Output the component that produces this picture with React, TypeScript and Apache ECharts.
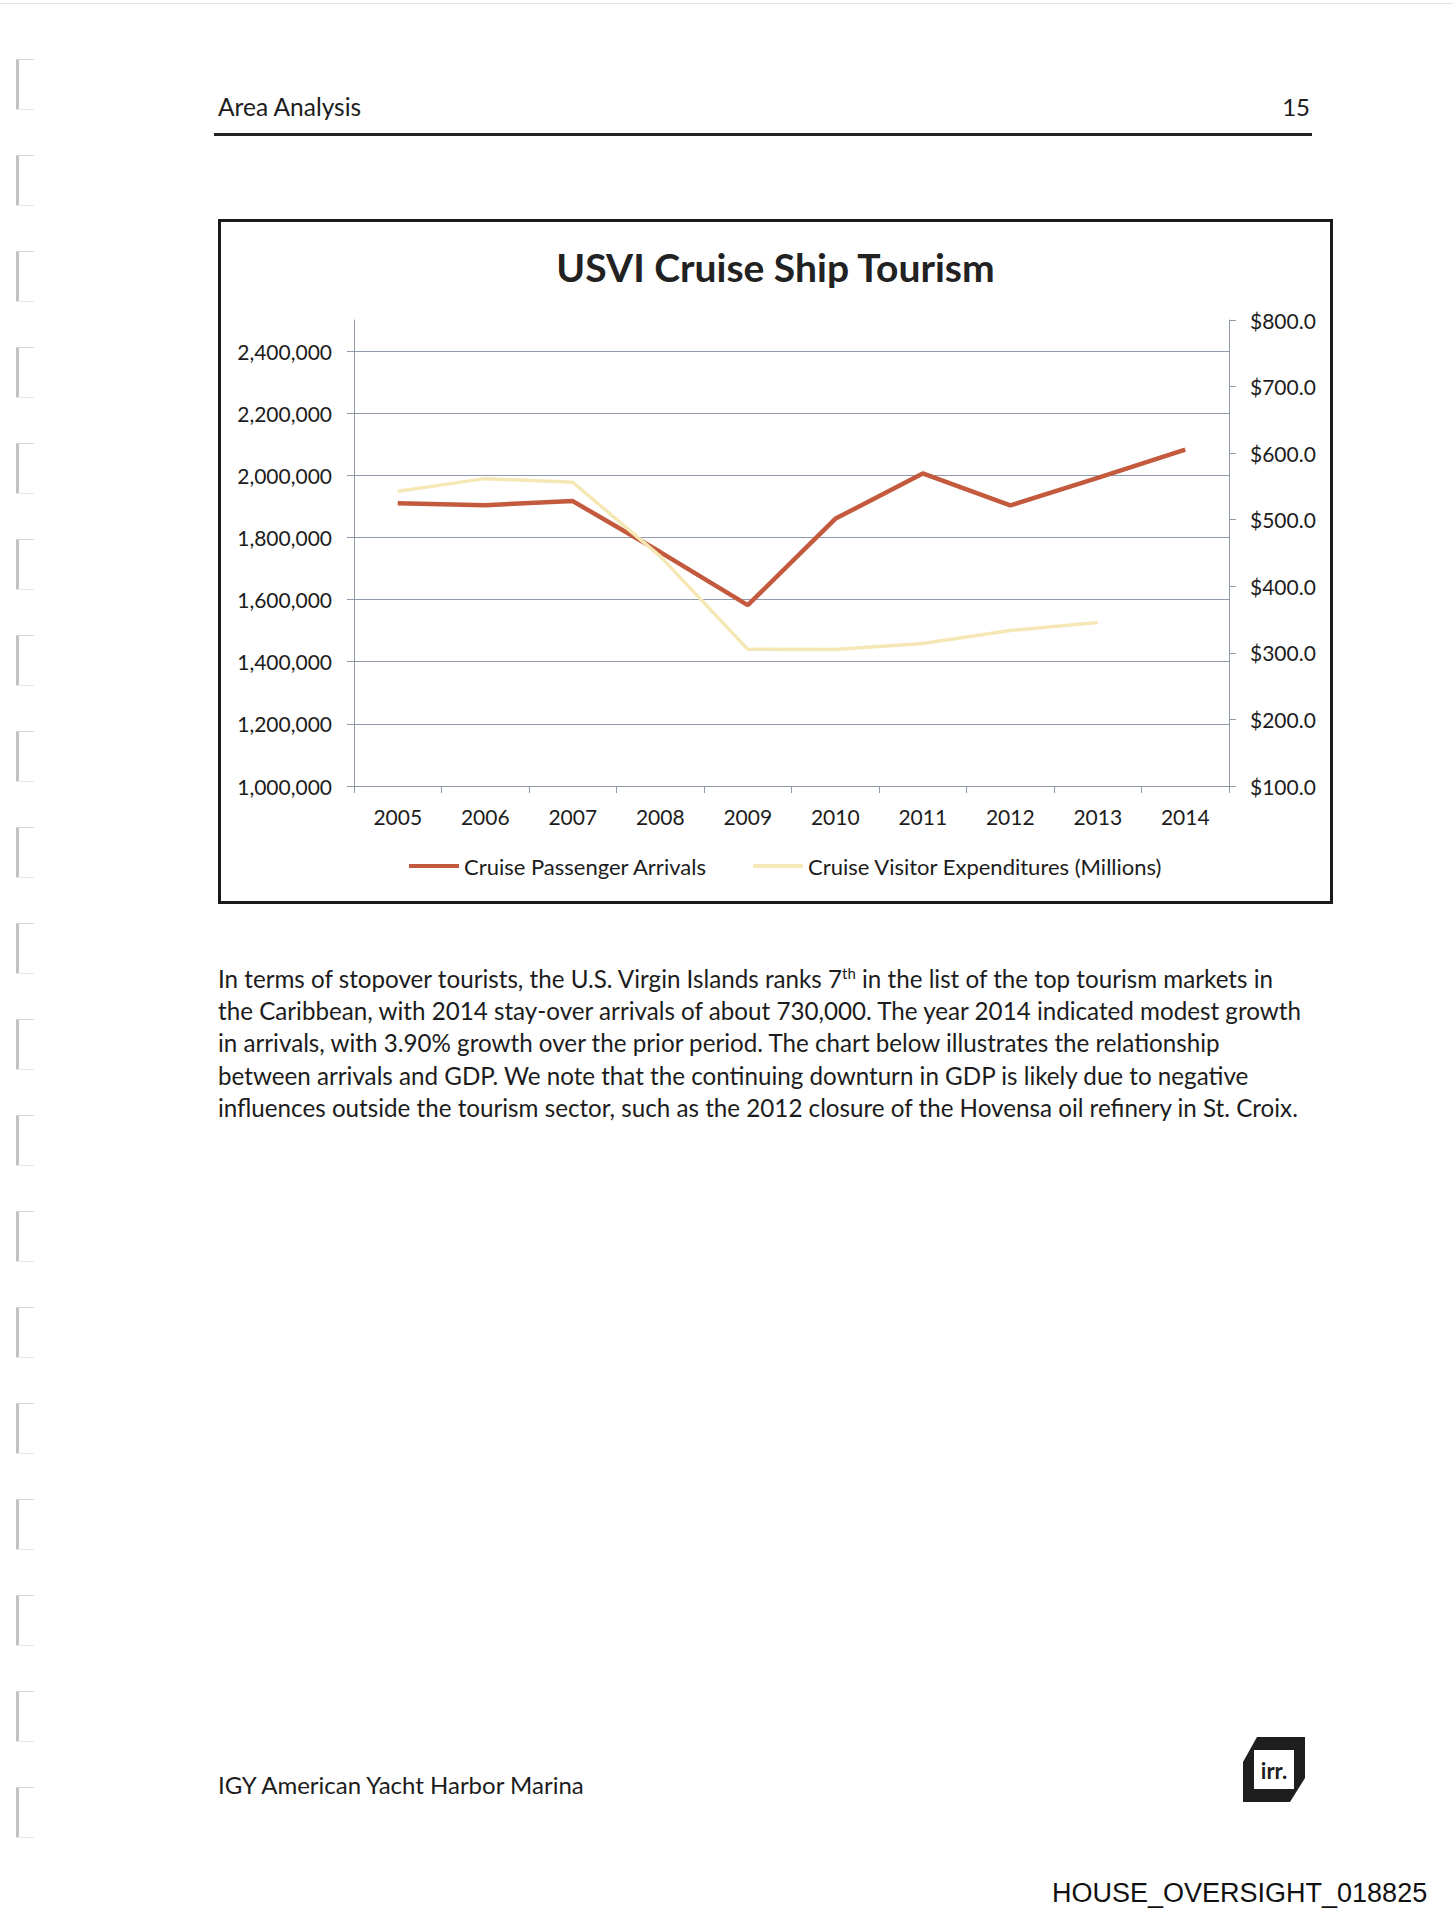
import React, { useEffect, useRef } from "react";
import * as echarts from "echarts";

const years = ["2005", "2006", "2007", "2008", "2009", "2010", "2011", "2012", "2013", "2014"];
const arrivals = [1910000, 1904000, 1917000, 1753000, 1582000, 1860000, 2006000, 1903000, 1992000, 2083000];
const expenditures = [542.8, 561.7, 556.3, 445, 305.5, 305, 314, 333.5, 345.6, null];
const leftTickValues = [1000000, 1200000, 1400000, 1600000, 1800000, 2000000, 2200000, 2400000];
const leftGridValues = [1200000, 1400000, 1600000, 1800000, 2000000, 2200000, 2400000];
const seriesNames = ["Cruise Passenger Arrivals", "Cruise Visitor Expenditures (Millions)"];

const bodyLines = [
  "the Caribbean, with 2014 stay-over arrivals of about 730,000. The year 2014 indicated modest growth",
  "in arrivals, with 3.90% growth over the prior period. The chart below illustrates the relationship",
  "between arrivals and GDP. We note that the continuing downturn in GDP is likely due to negative",
  "influences outside the tourism sector, such as the 2012 closure of the Hovensa oil refinery in St. Croix.",
];

const FONT = "Lato, 'Open Sans', sans-serif";
const GRID = "#8e9aab";
const TXT = "#1c1c1c";
const RED = "#c45a3d";
const YEL = "#f6e8b6";

function Chart() {
  const ref = useRef<HTMLDivElement>(null);
  useEffect(() => {
    if (!ref.current) return;
    const chart = echarts.init(ref.current, undefined, { renderer: "svg" });
    chart.setOption({
      animation: false,
      backgroundColor: "#ffffff",
      textStyle: { fontFamily: FONT },
      title: {
        text: "USVI Cruise Ship Tourism",
        left: "center",
        top: 20,
        textStyle: { fontFamily: FONT, fontWeight: "bold", fontSize: 39, color: "#222" },
      },
      legend: {
        left: 183,
        top: 628,
        itemWidth: 50,
        itemHeight: 4,
        itemGap: 46,
        icon: "rect",
        textStyle: { fontFamily: FONT, fontSize: 22, color: TXT },
        data: seriesNames,
      },
      grid: { left: 133, right: 101, top: 98, bottom: 115, containLabel: false },
      xAxis: {
        type: "category",
        data: years,
        boundaryGap: true,
        axisLine: { show: true, lineStyle: { color: GRID, width: 1 } },
        axisTick: { show: true, length: 7, lineStyle: { color: GRID } },
        axisLabel: { fontFamily: FONT, fontSize: 21, color: TXT, margin: 20 },
        splitLine: { show: false },
      },
      yAxis: [
        {
          type: "value",
          min: 1000000,
          max: 2500000,
          interval: 200000,
          position: "left",
          axisLine: { show: true, lineStyle: { color: GRID, width: 1 } },
          axisTick: { show: true, length: 7, lineStyle: { color: GRID }, customValues: leftTickValues },
          axisLabel: {
            fontFamily: FONT,
            fontSize: 21,
            color: TXT,
            margin: 22,
            customValues: leftTickValues,
            formatter: (v: number) => (v > 2400000 ? "" : v.toLocaleString("en-US")),
          },
          splitLine: { show: false },
        },
        {
          type: "value",
          min: 100,
          max: 800,
          interval: 100,
          position: "right",
          axisLine: { show: true, lineStyle: { color: GRID, width: 1 } },
          axisTick: { show: true, length: 7, lineStyle: { color: GRID } },
          axisLabel: {
            fontFamily: FONT,
            fontSize: 21,
            color: TXT,
            margin: 21,
            formatter: (v: number) => "$" + v.toFixed(1),
          },
          splitLine: { show: false },
        },
      ],
      series: [
        {
          name: seriesNames[0],
          type: "line",
          yAxisIndex: 0,
          data: arrivals,
          symbol: "none",
          lineStyle: { color: RED, width: 4.5 },
          itemStyle: { color: RED },
          markLine: {
            silent: true,
            symbol: "none",
            label: { show: false },
            lineStyle: { color: GRID, width: 1, type: "solid" },
            data: leftGridValues.map((v) => ({ yAxis: v })),
            z: 1,
          },
        },
        {
          name: seriesNames[1],
          type: "line",
          yAxisIndex: 1,
          data: expenditures,
          symbol: "none",
          connectNulls: false,
          lineStyle: { color: YEL, width: 3.5 },
          itemStyle: { color: YEL },
        },
      ],
    });
    return () => chart.dispose();
  }, []);
  return <div ref={ref} style={{ width: 1109, height: 679 }} />;
}

function Logo() {
  return (
    <svg width={70} height={70} viewBox="0 0 70 70" style={{ position: "absolute", left: 1240, top: 1734 }}>
      <polygon points="17,3 65,3 65,44 50,68 3,68 3,28" fill="#1e1e1e" />
      <rect x="14" y="16" width="40" height="39" fill="#ffffff" />
      <text x="34" y="45" textAnchor="middle" fontFamily="Lato, sans-serif" fontWeight="bold" fontSize="22" fill="#1e1e1e">
        irr.
      </text>
    </svg>
  );
}

export default function App() {
  const marks = Array.from({ length: 19 }, (_, i) => 59 + i * 96);
  return (
    <div style={{ position: "absolute", left: 0, top: 0, width: 1453, height: 1920, background: "#fff", overflow: "hidden", fontFamily: FONT, color: TXT }}>
      <div style={{ position: "absolute", left: 0, top: 3, width: 1453, height: 1, background: "#e4e4e4" }} />
      {marks.map((y, i) => (
        <div key={i} style={{ position: "absolute", left: 16, top: y, width: 18, height: 51 }}>
          <div style={{ position: "absolute", left: 0, top: 0, width: 3, height: 51, background: "#c2c2c2" }} />
          <div style={{ position: "absolute", left: 0, top: 0, width: 18, height: 1, background: "#d6d6d6" }} />
          <div style={{ position: "absolute", left: 0, top: 50, width: 18, height: 1, background: "#e6e6e6" }} />
        </div>
      ))}
      <div style={{ position: "absolute", left: 218, top: 92, fontSize: 24.5, lineHeight: "30px" }}>Area Analysis</div>
      <div style={{ position: "absolute", left: 1250, width: 60, textAlign: "right", top: 92, fontSize: 24, lineHeight: "30px" }}>15</div>
      <div style={{ position: "absolute", left: 214, top: 133, width: 1098, height: 3, background: "#222" }} />

      <div style={{ position: "absolute", left: 218, top: 219, width: 1115, height: 685, border: "3px solid #1a1a1a", boxSizing: "border-box" }}>
        <Chart />
      </div>

      <div style={{ position: "absolute", left: 218, top: 963, fontSize: 24.2, lineHeight: "32.2px", whiteSpace: "nowrap" }}>
        <div>
          In terms of stopover tourists, the U.S. Virgin Islands ranks 7<sup style={{ fontSize: 15, lineHeight: 0 }}>th</sup> in the list of the top tourism markets in
        </div>
        {bodyLines.map((l, i) => (
          <div key={i}>{l}</div>
        ))}
      </div>

      <div style={{ position: "absolute", left: 218, top: 1770, fontSize: 24, lineHeight: "30px" }}>IGY American Yacht Harbor Marina</div>
      <Logo />
      <div style={{ position: "absolute", left: 1052, top: 1876, fontSize: 27, lineHeight: "34px", fontFamily: "'Liberation Sans', Arial, sans-serif", color: "#111" }}>
        HOUSE_OVERSIGHT_018825
      </div>
    </div>
  );
}
